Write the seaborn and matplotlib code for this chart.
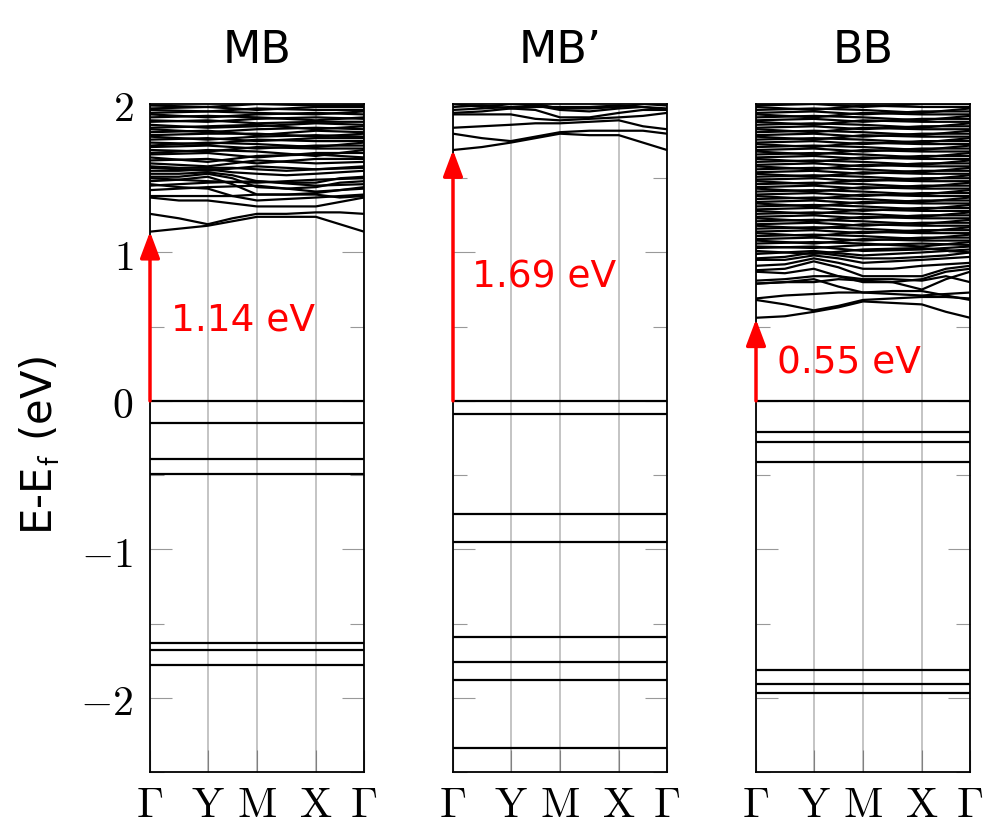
import numpy as np
import pandas as pd
import seaborn as sns
import matplotlib.pyplot as plt
from matplotlib.ticker import MultipleLocator

# k-path: high-symmetry points and the finer path used for the lower bands
k_labels = [r'$\Gamma$', r'$\mathrm{Y}$', r'$\mathrm{M}$', r'$\mathrm{X}$', r'$\Gamma$']
k_nodes = [0.0, 0.27, 0.5, 0.775, 1.0]
k_fine = [0.0, 0.135, 0.27, 0.385, 0.5, 0.6375, 0.775, 0.8875, 1.0]

panels = ['MB', 'MB’', 'BB']
gaps = [1.14, 1.69, 0.55]

# flat valence levels (eV)
mb_valence = [0.0, -0.15, -0.39, -0.49, -1.63, -1.68, -1.78]
mbp_valence = [0.0, -0.09, -0.76, -0.95, -1.59, -1.76, -1.88, -2.34]
bb_valence = [0.0, -0.21, -0.28, -0.41, -1.81, -1.91, -1.97]

# conduction bands read along k_fine
mb_low = [
    [1.14, 1.16, 1.18, 1.21, 1.24, 1.24, 1.24, 1.19, 1.14],
    [1.26, 1.23, 1.19, 1.23, 1.26, 1.26, 1.27, 1.27, 1.26],
    [1.37, 1.35, 1.35, 1.33, 1.31, 1.31, 1.31, 1.34, 1.37],
    [1.38, 1.38, 1.38, 1.38, 1.39, 1.39, 1.39, 1.37, 1.38],
    [1.46, 1.44, 1.43, 1.38, 1.35, 1.36, 1.37, 1.38, 1.39],
    [1.48, 1.49, 1.51, 1.46, 1.39, 1.39, 1.40, 1.42, 1.44],
    [1.51, 1.51, 1.53, 1.50, 1.44, 1.43, 1.44, 1.47, 1.48],
    [1.53, 1.53, 1.54, 1.52, 1.48, 1.47, 1.47, 1.50, 1.51],
    [1.55, 1.55, 1.56, 1.54, 1.53, 1.52, 1.53, 1.54, 1.55],
    [1.58, 1.57, 1.57, 1.57, 1.56, 1.55, 1.56, 1.57, 1.58],
]
# dense upper bands read at the high-symmetry points
mb_dense = [
    [1.42, 1.44, 1.45, 1.41, 1.43], [1.45, 1.47, 1.48, 1.45, 1.46],
    [1.50, 1.48, 1.47, 1.49, 1.50], [1.57, 1.55, 1.58, 1.56, 1.57],
    [1.60, 1.58, 1.62, 1.60, 1.61], [1.62, 1.63, 1.60, 1.63, 1.63],
    [1.64, 1.61, 1.65, 1.66, 1.64], [1.66, 1.67, 1.64, 1.67, 1.67],
    [1.67, 1.69, 1.68, 1.65, 1.69], [1.69, 1.68, 1.71, 1.70, 1.70],
    [1.71, 1.72, 1.70, 1.72, 1.72], [1.72, 1.74, 1.73, 1.71, 1.74],
    [1.74, 1.73, 1.76, 1.75, 1.75], [1.76, 1.77, 1.75, 1.77, 1.77],
    [1.78, 1.76, 1.78, 1.79, 1.78], [1.79, 1.80, 1.80, 1.78, 1.80],
    [1.81, 1.82, 1.79, 1.82, 1.81], [1.83, 1.81, 1.83, 1.84, 1.83],
    [1.84, 1.85, 1.86, 1.83, 1.85], [1.86, 1.84, 1.85, 1.87, 1.86],
    [1.88, 1.89, 1.87, 1.88, 1.88], [1.89, 1.88, 1.90, 1.91, 1.90],
    [1.91, 1.92, 1.91, 1.89, 1.91], [1.93, 1.91, 1.93, 1.94, 1.93],
    [1.94, 1.95, 1.94, 1.93, 1.95], [1.96, 1.95, 1.97, 1.96, 1.96],
    [1.97, 1.98, 1.96, 1.98, 1.98], [1.99, 1.98, 2.00, 1.99, 1.99],
]

mbp_low = [
    [1.69, 1.71, 1.74, 1.77, 1.80, 1.79, 1.79, 1.74, 1.69],
    [1.80, 1.77, 1.75, 1.78, 1.81, 1.82, 1.82, 1.82, 1.80],
    [1.84, 1.85, 1.86, 1.87, 1.87, 1.88, 1.89, 1.85, 1.83],
    [1.93, 1.93, 1.93, 1.90, 1.89, 1.90, 1.91, 1.92, 1.94],
    [1.94, 1.95, 1.97, 1.96, 1.91, 1.91, 1.94, 1.96, 1.96],
    [1.96, 1.97, 1.98, 1.99, 1.96, 1.95, 1.97, 1.98, 1.97],
    [1.98, 1.99, 1.97, 1.98, 1.98, 1.98, 1.99, 1.98, 1.96],
    [2.00, 1.98, 2.00, 2.00, 1.97, 1.97, 1.98, 2.00, 1.99],
]

bb_low = [
    [0.56, 0.57, 0.60, 0.63, 0.67, 0.66, 0.65, 0.60, 0.56],
    [0.68, 0.65, 0.61, 0.64, 0.68, 0.69, 0.70, 0.70, 0.69],
    [0.69, 0.71, 0.72, 0.73, 0.73, 0.74, 0.74, 0.71, 0.68],
    [0.79, 0.80, 0.82, 0.77, 0.73, 0.72, 0.71, 0.72, 0.73],
    [0.79, 0.80, 0.80, 0.82, 0.81, 0.80, 0.75, 0.82, 0.87],
    [0.81, 0.82, 0.84, 0.84, 0.82, 0.82, 0.81, 0.84, 0.80],
    [0.87, 0.86, 0.89, 0.84, 0.80, 0.80, 0.82, 0.87, 0.89],
    [0.88, 0.89, 0.94, 0.90, 0.84, 0.84, 0.84, 0.89, 0.91],
    [0.91, 0.92, 0.96, 0.93, 0.89, 0.89, 0.91, 0.92, 0.93],
    [0.95, 0.95, 0.98, 0.96, 0.93, 0.94, 0.95, 0.96, 0.97],
    [0.96, 0.97, 1.00, 0.98, 0.96, 0.96, 0.97, 0.98, 1.00],
]
bb_dense = [
    [0.99, 1.01, 0.98, 1.00, 1.02], [1.01, 0.99, 1.02, 1.03, 1.00],
    [1.03, 1.04, 1.01, 1.02, 1.04], [1.04, 1.03, 1.05, 1.06, 1.05],
    [1.06, 1.07, 1.06, 1.04, 1.07], [1.08, 1.06, 1.09, 1.08, 1.08],
    [1.09, 1.10, 1.08, 1.10, 1.10], [1.11, 1.12, 1.11, 1.09, 1.12],
    [1.13, 1.11, 1.14, 1.13, 1.13], [1.14, 1.15, 1.13, 1.15, 1.15],
    [1.16, 1.17, 1.16, 1.14, 1.17], [1.18, 1.16, 1.19, 1.18, 1.18],
    [1.19, 1.20, 1.18, 1.20, 1.20], [1.21, 1.22, 1.21, 1.19, 1.22],
    [1.23, 1.21, 1.24, 1.23, 1.23], [1.24, 1.25, 1.23, 1.25, 1.25],
    [1.26, 1.27, 1.26, 1.24, 1.27], [1.28, 1.26, 1.29, 1.28, 1.28],
    [1.29, 1.30, 1.28, 1.30, 1.30], [1.31, 1.32, 1.31, 1.29, 1.32],
    [1.33, 1.31, 1.34, 1.33, 1.33], [1.34, 1.35, 1.33, 1.35, 1.35],
    [1.36, 1.37, 1.36, 1.34, 1.37], [1.38, 1.36, 1.39, 1.38, 1.38],
    [1.39, 1.40, 1.38, 1.40, 1.40], [1.41, 1.42, 1.41, 1.39, 1.42],
    [1.43, 1.41, 1.44, 1.43, 1.43], [1.44, 1.45, 1.43, 1.45, 1.45],
    [1.46, 1.47, 1.46, 1.44, 1.47], [1.48, 1.46, 1.49, 1.48, 1.48],
    [1.49, 1.50, 1.48, 1.50, 1.50], [1.51, 1.52, 1.51, 1.49, 1.52],
    [1.53, 1.51, 1.54, 1.53, 1.53], [1.54, 1.55, 1.53, 1.55, 1.55],
    [1.56, 1.57, 1.56, 1.54, 1.57], [1.58, 1.56, 1.59, 1.58, 1.58],
    [1.59, 1.60, 1.58, 1.60, 1.60], [1.61, 1.62, 1.61, 1.59, 1.62],
    [1.63, 1.61, 1.64, 1.63, 1.63], [1.64, 1.65, 1.63, 1.65, 1.65],
    [1.66, 1.67, 1.66, 1.64, 1.67], [1.68, 1.66, 1.69, 1.68, 1.68],
    [1.69, 1.70, 1.68, 1.70, 1.70], [1.71, 1.72, 1.71, 1.69, 1.72],
    [1.73, 1.71, 1.74, 1.73, 1.73], [1.74, 1.75, 1.73, 1.75, 1.75],
    [1.76, 1.77, 1.76, 1.74, 1.77], [1.78, 1.76, 1.79, 1.78, 1.78],
    [1.79, 1.80, 1.78, 1.80, 1.80], [1.81, 1.82, 1.81, 1.79, 1.82],
    [1.83, 1.81, 1.84, 1.83, 1.83], [1.84, 1.85, 1.83, 1.85, 1.85],
    [1.86, 1.87, 1.86, 1.84, 1.87], [1.88, 1.86, 1.89, 1.88, 1.88],
    [1.89, 1.90, 1.88, 1.90, 1.90], [1.91, 1.92, 1.91, 1.89, 1.92],
    [1.93, 1.91, 1.94, 1.93, 1.93], [1.94, 1.95, 1.93, 1.95, 1.95],
    [1.96, 1.97, 1.96, 1.94, 1.97], [1.98, 1.96, 1.99, 1.98, 1.98],
    [1.99, 2.00, 1.98, 2.00, 2.00],
]

valence = [mb_valence, mbp_valence, bb_valence]
conduction = [mb_low + mb_dense, mbp_low, bb_low + bb_dense]


def k_grid(n):
    if n == 2:
        return [0.0, 1.0]
    if n == 5:
        return k_nodes
    return k_fine


# long-form table: one row per (panel, band, k)
rows = []
for p, name in enumerate(panels):
    bands = [[e, e] for e in valence[p]] + conduction[p]
    for b, vals in enumerate(bands):
        for k, e in zip(k_grid(len(vals)), vals):
            rows.append({'panel': name, 'band': b, 'k': k, 'E': e})
df = pd.DataFrame(rows)

sns.set_style('white')
plt.rcParams['font.family'] = ['DejaVu Sans']
plt.rcParams['mathtext.fontset'] = 'cm'
plt.rcParams['text.color'] = 'black'
plt.rcParams['xtick.labelcolor'] = 'black'
plt.rcParams['ytick.labelcolor'] = 'black'

fig = plt.figure(figsize=(9.9, 8.29), dpi=100)
lefts = [150 / 990, 453 / 990, 756 / 990]
label_pos = [(0.10, 0.55), (0.09, 0.835), (0.10, 0.26)]

for i, name in enumerate(panels):
    ax = fig.add_axes([lefts[i], 56 / 829, 214 / 990, 668 / 829])
    sns.lineplot(data=df[df.panel == name], x='k', y='E', units='band',
                 estimator=None, sort=False, color='black', lw=1.6, ax=ax)
    ax.set_xlim(0, 1)
    ax.set_ylim(-2.5, 2)
    ax.set_xlabel('')
    ax.set_ylabel('')
    ax.set_xticks(k_nodes)
    ax.set_xticklabels(k_labels)
    ax.set_yticks([-2, -1, 0, 1, 2])
    ax.set_yticklabels([r'$-2$', r'$-1$', r'$0$', r'$1$', r'$2$'])
    ax.yaxis.set_minor_locator(MultipleLocator(0.5))
    ax.tick_params(axis='y', which='major', direction='in', length=16, width=0.8,
                   color='0.6', left=True, right=True, labelsize=30, pad=12,
                   labelleft=(i == 0), labelcolor='black')
    ax.tick_params(axis='y', which='minor', direction='in', length=10, width=0.8,
                   color='0.6', left=True, right=True)
    ax.tick_params(axis='x', direction='in', length=16, width=0.8, color='0.5',
                   bottom=True, labelsize=31, pad=8, labelcolor='black')
    ax.grid(axis='x', color='0.75', lw=1.3)
    ax.set_axisbelow(True)
    for s in ax.spines.values():
        s.set_color('black')
        s.set_linewidth(1.3)
    ax.set_title(name, fontsize=32, pad=30, color='black')

    ax.annotate('', xy=(0, gaps[i]), xytext=(0, 0), annotation_clip=False,
                arrowprops=dict(arrowstyle='-|>,head_length=0.8,head_width=0.3',
                                color='red', lw=2.5, shrinkA=0, shrinkB=0,
                                mutation_scale=20))
    ax.text(label_pos[i][0], label_pos[i][1], f'{gaps[i]:.2f} eV', color='red',
            fontsize=27, va='center')

fig.text(40 / 990, 1 - 445 / 829, r'E-E$_\mathsf{f}$ (eV)', rotation=90,
         ha='center', va='center', fontsize=30, color='black')

fig.savefig('out.png', dpi=100)
